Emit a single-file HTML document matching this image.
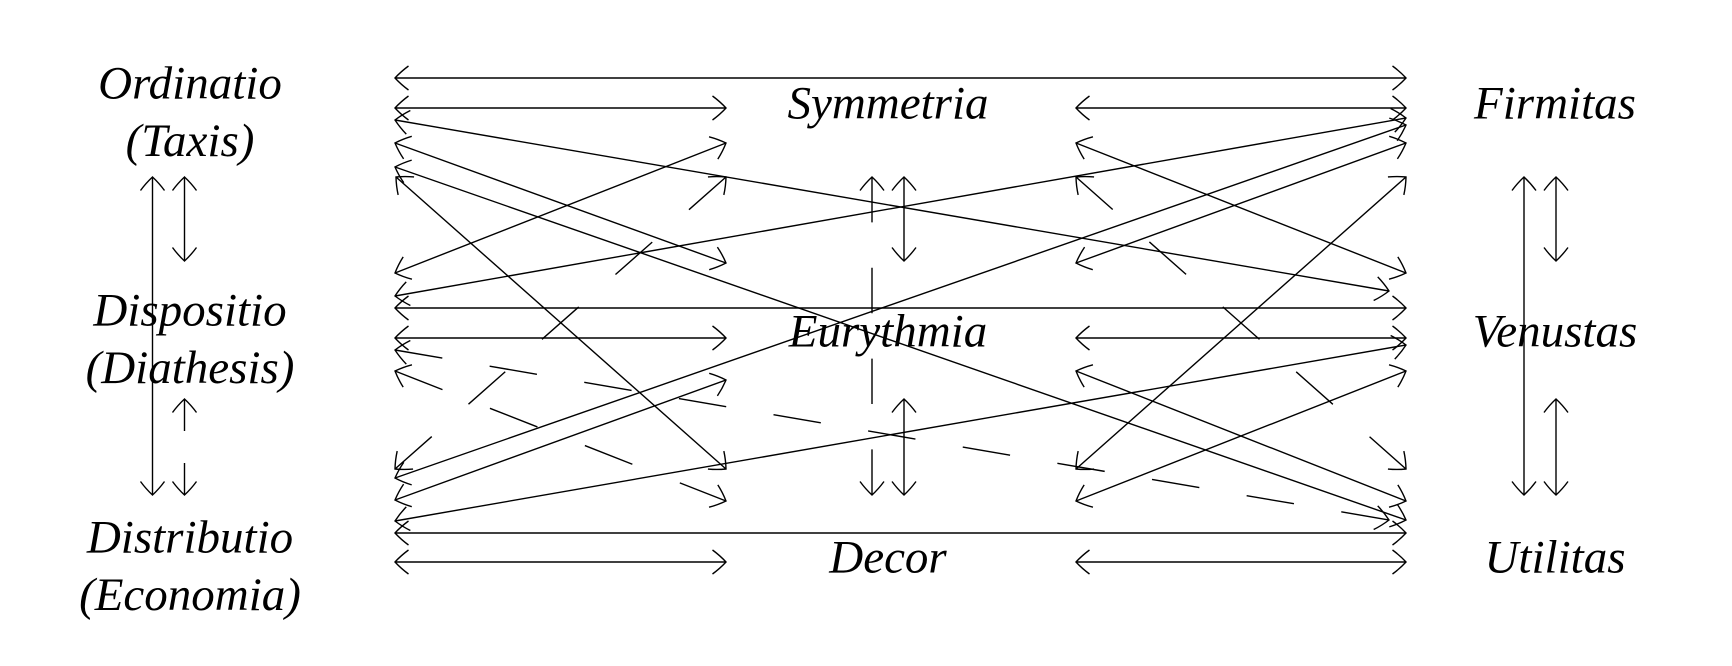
<!DOCTYPE html>
<html>
<head>
<meta charset="utf-8">
<style>
html,body{margin:0;padding:0;background:#fff}
svg{display:block}
line{stroke:#000;stroke-width:1.4;fill:none;marker-start:url(#a);marker-end:url(#a)}
text{font-family:"Liberation Serif",serif;font-style:italic;font-size:47px;text-anchor:middle;fill:#000}
</style>
</head>
<body>
<svg width="1732" height="666" viewBox="0 0 1732 666" xmlns="http://www.w3.org/2000/svg">
<defs>
<marker id="a" markerUnits="userSpaceOnUse" markerWidth="40" markerHeight="40" refX="0" refY="0" orient="auto-start-reverse" overflow="visible" viewBox="-20 -20 40 40">
<path d="M-13.500,-12Q-6,-6.500 0,0Q-6,6.500 -13.500,12" fill="none" stroke="#000" stroke-width="1.4"/>
</marker>
</defs>

<!-- horizontals -->
<line x1="395" y1="78" x2="1406" y2="78"/>
<line x1="395" y1="108" x2="726" y2="108"/>
<line x1="1076" y1="108" x2="1406" y2="108"/>
<line x1="395" y1="308" x2="1406" y2="308"/>
<line x1="395" y1="338" x2="726" y2="338"/>
<line x1="1076" y1="338" x2="1406" y2="338"/>
<line x1="395" y1="533" x2="1406" y2="533"/>
<line x1="395" y1="562" x2="726" y2="562"/>
<line x1="1076" y1="562" x2="1406" y2="562"/>

<!-- long diagonals -->
<line x1="395" y1="120" x2="1389" y2="291"/>
<line x1="395" y1="296" x2="1406" y2="118"/>
<line x1="395" y1="167" x2="1406" y2="520"/>
<line x1="395" y1="478" x2="1406" y2="125"/>
<line x1="395" y1="350" x2="1389" y2="520" stroke-dasharray="48 48"/>
<line x1="395" y1="521" x2="1406" y2="345"/>

<!-- left block -->
<line x1="395" y1="143" x2="726" y2="263"/>
<line x1="395" y1="273" x2="726" y2="143"/>
<line x1="396" y1="177" x2="726" y2="469"/>
<line x1="395" y1="469" x2="726" y2="177" stroke-dasharray="49 49"/>
<line x1="395" y1="371" x2="726" y2="501" stroke-dasharray="51 51"/>
<line x1="395" y1="500" x2="726" y2="380"/>

<!-- right block -->
<line x1="1076" y1="143" x2="1406" y2="273"/>
<line x1="1076" y1="263" x2="1406" y2="143"/>
<line x1="1076" y1="469" x2="1406" y2="177"/>
<line x1="1076" y1="177" x2="1406" y2="469" stroke-dasharray="49 49"/>
<line x1="1076" y1="371" x2="1406" y2="501"/>
<line x1="1076" y1="501" x2="1406" y2="371"/>

<!-- verticals -->
<line x1="872" y1="177" x2="872" y2="495" stroke-dasharray="45.4 45.4"/>
<line x1="904" y1="177" x2="904" y2="261"/>
<line x1="904" y1="399" x2="904" y2="495"/>
<line x1="152.500" y1="177" x2="152.500" y2="495"/>
<line x1="184.500" y1="177" x2="184.500" y2="261"/>
<line x1="184.500" y1="399" x2="184.500" y2="495" stroke-dasharray="32 32"/>
<line x1="1524" y1="177" x2="1524" y2="495"/>
<line x1="1556" y1="177" x2="1556" y2="261"/>
<line x1="1556" y1="399" x2="1556" y2="495"/>

<!-- labels -->
<text x="190" y="98.500">Ordinatio</text>
<text x="190" y="156">(Taxis)</text>
<text x="190" y="325.500">Dispositio</text>
<text x="190" y="383">(Diathesis)</text>
<text x="190" y="552.500">Distributio</text>
<text x="190" y="610">(Economia)</text>
<text x="888" y="118.500">Symmetria</text>
<text x="888" y="346.500">Eurythmia</text>
<text x="888" y="572.500">Decor</text>
<text x="1555" y="118.500">Firmitas</text>
<text x="1555" y="346.500">Venustas</text>
<text x="1555" y="572.500">Utilitas</text>
</svg>
</body>
</html>
